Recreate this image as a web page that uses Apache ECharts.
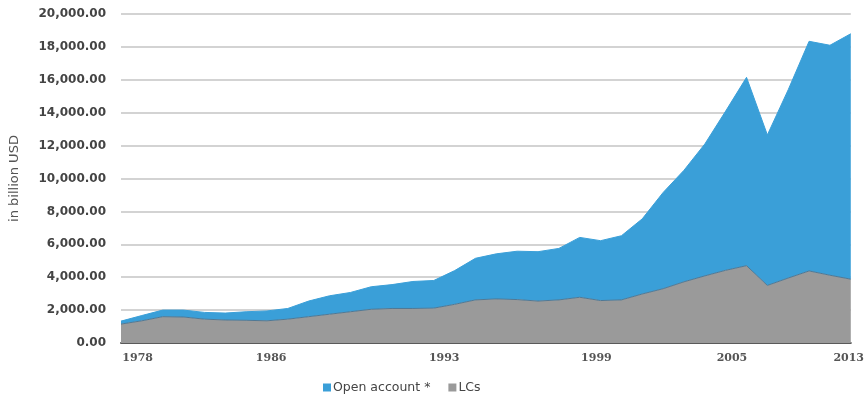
<!DOCTYPE html>
<html>
<head>
<meta charset="utf-8">
<script src="https://cdn.jsdelivr.net/npm/echarts@6/dist/echarts.min.js"></script>
<style>html,body{margin:0;padding:0;background:#fff}#c{width:867px;height:400px}</style>
</head>
<body>
<div id="c"></div>
<script>
const years = [1978,1979,1980,1981,1982,1983,1984,1985,1986,1987,1988,1989,1990,1991,1992,1993,1994,1995,1996,1997,1998,1999,2000,2001,2002,2003,2004,2005,2006,2007,2008,2009,2010,2011,2012,2013];
const lcs = [1150,1350,1600,1580,1450,1400,1380,1350,1450,1600,1750,1900,2050,2100,2100,2120,2350,2620,2680,2640,2550,2620,2780,2580,2620,2980,3300,3720,4080,4420,4700,3500,3950,4380,4120,3880];
const openAccount = [180,320,400,420,410,420,520,600,650,950,1120,1170,1370,1450,1640,1680,2050,2530,2740,2940,3000,3130,3640,3640,3900,4570,5850,6780,8020,9680,11450,9150,11450,13960,13980,14920];
const xTickLabels = ['1978','1986','1993','1999','2005','2013'];

// where the reference prints its x tick labels (layout only)
const labelAt = [1978.8, 1985.2, 1993.5, 2000.8, 2007.3, 2012.9];

const chart = echarts.init(document.getElementById('c'), null, {renderer: 'canvas'});
chart.setOption({
  animation: false,
  grid: {left: 117, right: 14, top: 14, bottom: 57},
  legend: {
    data: ['Open account *', 'LCs'],
    left: 318, top: 376,
    itemWidth: 8, itemHeight: 8, itemGap: 18,
    icon: 'rect',
    textStyle: {fontFamily: 'DejaVu Sans', fontSize: 12.5, color: '#444', padding: [0,0,0,-3]}
  },
  xAxis: [
    {
      type: 'category',
      data: years.map(String),
      boundaryGap: false,
      splitLine: {show: false},
      axisLine: {show: true, lineStyle: {color: '#5a5a5a', width: 2}},
      axisTick: {show: false},
      axisLabel: {show: false}
    },
    {
      type: 'value',
      position: 'bottom',
      min: 1978, max: 2013,
      splitLine: {show: false},
      axisLine: {show: false},
      axisTick: {show: false},
      axisLabel: {
        customValues: labelAt,
        formatter: function (v) {
          let best = 0;
          for (let i = 1; i < labelAt.length; i++) if (Math.abs(labelAt[i] - v) < Math.abs(labelAt[best] - v)) best = i;
          return xTickLabels[best];
        },
        fontFamily: 'DejaVu Serif', fontSize: 11, fontWeight: 'bold', color: '#555', margin: 10
      }
    }
  ],
  yAxis: {
    type: 'value',
    min: 0, max: 20000, interval: 2000,
    name: 'in billion USD',
    nameLocation: 'middle',
    nameGap: 100,
    nameTextStyle: {fontFamily: 'DejaVu Sans', fontSize: 13, color: '#555'},
    axisLine: {show: false},
    axisTick: {show: false},
    splitLine: {lineStyle: {color: '#c4c4c4', width: 1.5}},
    axisLabel: {
      formatter: function (v) { return v.toLocaleString('en-US', {minimumFractionDigits: 2, maximumFractionDigits: 2}); },
      fontFamily: 'DejaVu Sans', fontSize: 12, fontWeight: 'bold', color: '#444', margin: 15
    }
  },
  series: [
    {
      name: 'LCs', type: 'line', stack: 'total', showSymbol: false, z: 3,
      data: lcs,
      lineStyle: {color: '#4f7894', width: 1},
      itemStyle: {color: '#9a9a9a'},
      areaStyle: {color: '#9a9a9a', opacity: 1}
    },
    {
      name: 'Open account *', type: 'line', stack: 'total', showSymbol: false, z: 2,
      data: openAccount,
      lineStyle: {color: '#3a9fd8', width: 1},
      itemStyle: {color: '#3a9fd8'},
      areaStyle: {color: '#3a9fd8', opacity: 1}
    }
  ]
});
</script>
</body>
</html>
